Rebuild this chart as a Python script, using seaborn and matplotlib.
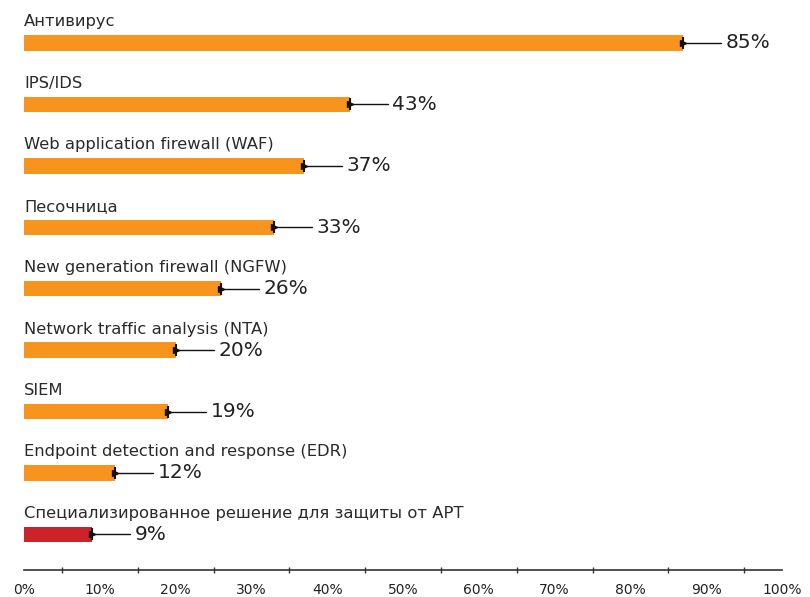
import matplotlib
matplotlib.use("Agg")
import matplotlib.pyplot as plt
import seaborn as sns
import pandas as pd
from matplotlib.ticker import MultipleLocator, FuncFormatter

categories = [
    "Антивирус",
    "IPS/IDS",
    "Web application firewall (WAF)",
    "Песочница",
    "New generation firewall (NGFW)",
    "Network traffic analysis (NTA)",
    "SIEM",
    "Endpoint detection and response (EDR)",
    "Специализированное решение для защиты от APT",
]
bar_values = [87, 43, 37, 33, 26, 20, 19, 12, 9]
value_labels = ["85%", "43%", "37%", "33%", "26%", "20%", "19%", "12%", "9%"]
colors = ["#F7941D"] * 8 + ["#CC2229"]

df = pd.DataFrame({"cat": categories, "val": bar_values})

sns.set_style("white")
plt.rcParams["font.family"] = ["DejaVu Sans"]

fig = plt.figure(figsize=(8.1, 5.97), dpi=100)
ax = fig.add_axes([24 / 810, 27 / 597, (782 - 24) / 810, 1 - 27 / 597])

sns.barplot(data=df, y="cat", x="val", hue="cat", palette=colors,
            legend=False, width=0.25, orient="h", ax=ax, saturation=1,
            linewidth=0)

for i, (v, lab, cat) in enumerate(zip(bar_values, value_labels, categories)):
    ax.plot([v, v + 5], [i, i], color="#111111", lw=1, zorder=3)
    ax.plot(v, i, marker=">", color="#111111", ms=4, zorder=4)
    ax.plot(v, i, marker="|", color="#111111", ms=8, mew=1.5, zorder=4)
    ax.text(v + 5.6, i, lab, va="center", ha="left", fontsize=14.5, color="#222222")
    ax.text(0, i - 0.27, cat, va="baseline", ha="left", fontsize=11.8, color="#2a2a2a")

ax.set_xlim(0, 100)
ax.set_ylim(8.58, -0.70)
ax.set_xlabel("")
ax.set_ylabel("")
ax.set_yticks([])
ax.xaxis.set_major_locator(MultipleLocator(10))
ax.xaxis.set_minor_locator(MultipleLocator(5))
ax.xaxis.set_major_formatter(FuncFormatter(lambda x, p: f"{int(x)}%"))
ax.tick_params(axis="x", which="major", direction="inout", length=8, width=1,
               color="#333333", labelsize=10, labelcolor="#222222", pad=5)
ax.tick_params(axis="x", which="minor", direction="inout", length=4, width=1,
               color="#333333", bottom=True)
for s in ["top", "right", "left"]:
    ax.spines[s].set_visible(False)
ax.spines["bottom"].set_color("#333333")
ax.spines["bottom"].set_linewidth(1.2)
ax.patch.set_alpha(0)
for lbl in ax.get_xticklabels():
    lbl.set_clip_on(False)

fig.savefig("out.png", dpi=100)
